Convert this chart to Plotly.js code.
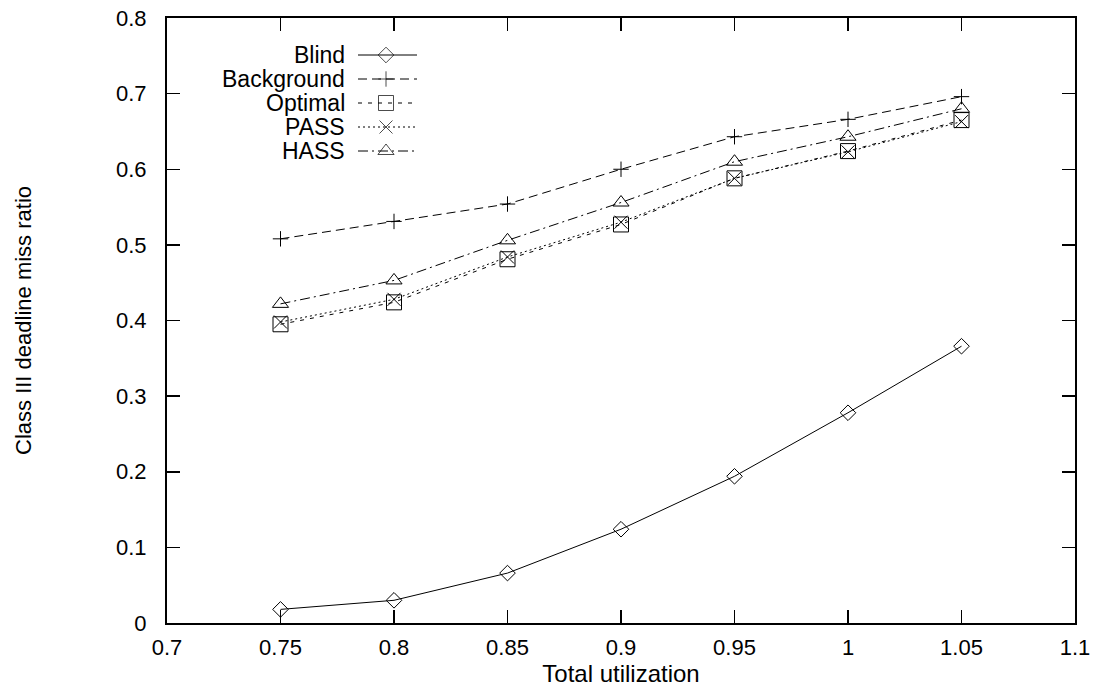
<!DOCTYPE html>
<html>
<head>
<meta charset="utf-8">
<script src="https://cdn.plot.ly/plotly-3.0.1.min.js"></script>
<style>html,body{margin:0;padding:0;background:#fff;}#chart{width:1101px;height:690px;}</style>
</head>
<body>
<div id="chart"></div>
<script>
// ---- data ----
const utilization = [0.75, 0.8, 0.85, 0.9, 0.95, 1.0, 1.05];
const blind      = [0.018, 0.030, 0.066, 0.124, 0.194, 0.278, 0.366];
const background = [0.508, 0.531, 0.554, 0.600, 0.643, 0.666, 0.696];
const optimal    = [0.395, 0.424, 0.481, 0.527, 0.588, 0.624, 0.665];
const pass       = [0.398, 0.428, 0.484, 0.530, 0.588, 0.623, 0.663];
const hass       = [0.422, 0.453, 0.506, 0.556, 0.610, 0.643, 0.680];

const seriesNames = ["Blind", "Background", "Optimal", "PASS", "HASS"];
const xTickVals = [0.7, 0.75, 0.8, 0.85, 0.9, 0.95, 1, 1.05, 1.1];
const xTickText = ["0.7", "0.75", "0.8", "0.85", "0.9", "0.95", "1", "1.05", "1.1"];
const yTickVals = [0, 0.1, 0.2, 0.3, 0.4, 0.5, 0.6, 0.7, 0.8];
const yTickText = ["0", "0.1", "0.2", "0.3", "0.4", "0.5", "0.6", "0.7", "0.8"];
const xTitle = "Total utilization";
const yTitle = "Class III deadline miss ratio";

// ---- styles ----
const FONT = '"Liberation Sans", Arial, Helvetica, sans-serif';
const styles = [
  {vals: blind,      dash: "solid",              symbol: "diamond-open",         size: 12},
  {vals: background, dash: "9px,5px",            symbol: "cross-thin-open",      size: 11},
  {vals: optimal,    dash: "4px,6px",            symbol: "square-open",          size: 15},
  {vals: pass,       dash: "2px,3px",            symbol: "x-thin-open",          size: 13},
  {vals: hass,       dash: "10px,4px,2px,4px",   symbol: "triangle-up-open",     size: 14}
];

const M = {l: 167, r: 26, t: 18, b: 67};
const W = 1101, H = 690;

const traces = [];
styles.forEach((s, i) => {
  traces.push({
    x: utilization, y: s.vals, name: seriesNames[i],
    type: "scatter", mode: "lines+markers",
    line: {color: "#000", width: 1, dash: s.dash},
    marker: {symbol: s.symbol, size: s.size, color: "#000", line: {color: "#000", width: 1}},
    showlegend: false, hoverinfo: "x+y+name"
  });
});

// ---- custom gnuplot-style key (text left, sample on the right) in pixel overlay axes ----
const keyTextRight = 346, keySampleL = 358, keySampleR = 417, keyMarkX = 386;
const keyTop = 55, keyStep = 24;
const annotations = [];
styles.forEach((s, i) => {
  const yy = keyTop + i * keyStep;
  traces.push({
    x: [keySampleL, keyMarkX, keySampleR], y: [yy, yy, yy],
    xaxis: "x2", yaxis: "y2", type: "scatter", mode: "lines+markers",
    line: {color: "#000", width: 1, dash: s.dash},
    marker: {symbol: s.symbol, size: [0, s.size, 0], color: "#000", line: {color: "#000", width: 1}},
    showlegend: false, hoverinfo: "skip"
  });
  annotations.push({
    xref: "x2", yref: "y2", x: keyTextRight, y: yy, text: seriesNames[i],
    xanchor: "right", yanchor: "middle", showarrow: false,
    font: {family: FONT, size: 23, color: "#000"}, borderpad: 0
  });
});

const axisCommon = {
  showgrid: false, zeroline: false, showline: true, linecolor: "#000", linewidth: 2,
  mirror: "ticks", ticks: "inside", ticklen: 13, tickwidth: 1.5, tickcolor: "#000",
  tickfont: {family: FONT, size: 22, color: "#000"}
};

const layout = {
  width: W, height: H,
  margin: M,
  paper_bgcolor: "#fff", plot_bgcolor: "#fff",
  showlegend: false,
  xaxis: Object.assign({}, axisCommon, {
    range: [0.7, 1.1], tickmode: "array", tickvals: xTickVals, ticktext: xTickText,
    ticklabelstandoff: 4,
    title: {text: xTitle, font: {family: FONT, size: 24, color: "#000"}, standoff: 0}
  }),
  yaxis: Object.assign({}, axisCommon, {
    range: [0, 0.8], tickmode: "array", tickvals: yTickVals, ticktext: yTickText,
    ticklabelstandoff: 14,
    title: {text: yTitle, font: {family: FONT, size: 22, color: "#000"}, standoff: 78}
  }),
  xaxis2: {overlaying: "x", range: [M.l, W - M.r], visible: false, fixedrange: true},
  yaxis2: {overlaying: "y", range: [H - M.b, M.t], visible: false, fixedrange: true},
  annotations: annotations
};

Plotly.newPlot("chart", traces, layout, {displayModeBar: false, staticPlot: true});
</script>
</body>
</html>
